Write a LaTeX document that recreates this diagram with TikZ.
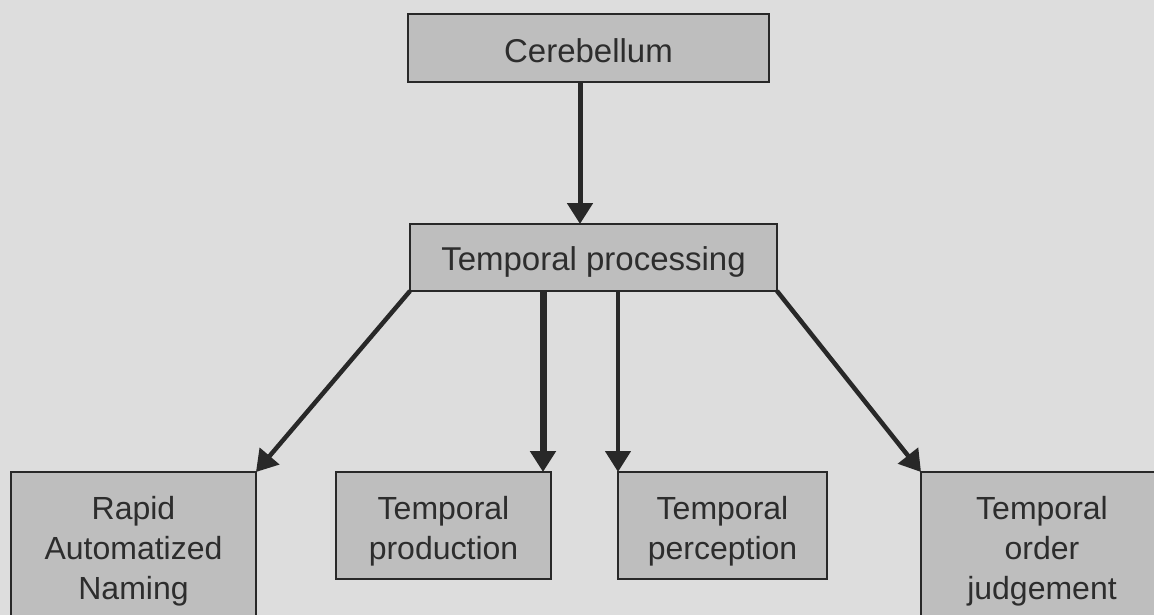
\documentclass[tikz,border=0pt]{standalone}
\usepackage{fontspec}
\setmainfont{Liberation Sans}
\usetikzlibrary{arrows.meta}
\definecolor{bg}{RGB}{221,221,221}
\definecolor{boxfill}{RGB}{190,190,190}
\definecolor{edge}{RGB}{40,40,40}
\definecolor{txt}{RGB}{45,45,45}
\begin{document}
\begin{tikzpicture}[x=1pt,y=-1pt,
  box/.style={draw=edge, line width=2pt, fill=boxfill, text=txt, inner sep=0pt, outer sep=0pt, align=center},
  topbox/.style={box, font=\fontsize{33}{40}\selectfont, text depth=0pt},
  lowbox/.style={box, font=\fontsize{32}{40}\selectfont},
  conn/.style={draw=edge, line width=#1, -{Triangle[width=25pt,length=21pt]}},
  conn/.default=4.5pt
]
\fill[bg] (0,0) rectangle (1154,615);
\useasboundingbox (0,0) rectangle (1154,615);
\clip (0,0) rectangle (1154,615);

\node[topbox, minimum width=361pt, minimum height=68pt, text height=28.6pt] (cer) at (588.5,48) {Cerebellum};
\node[topbox, minimum width=367pt, minimum height=67pt, text height=26.4pt] (tp) at (593.5,257.5) {Temporal processing};

\node[lowbox, minimum width=245pt, minimum height=156pt, text width=230pt, text height=30pt, text depth=92pt] (ran) at (133.5,550) {Rapid\\Automatized\\Naming};
\node[lowbox, minimum width=215pt, minimum height=107pt, text width=200pt, text height=30pt, text depth=43pt] (prod) at (443.5,525.5) {Temporal\\production};
\node[lowbox, minimum width=209pt, minimum height=107pt, text width=200pt, text height=30pt, text depth=43pt] (perc) at (722.5,525.5) {Temporal\\perception};
\node[lowbox, minimum width=242pt, minimum height=156pt, text width=230pt, text height=30pt, text depth=92pt] (toj) at (1042,550) {Temporal\\order\\judgement};

\draw[conn=5pt] ([xshift=-8.5pt]cer.south) -- ([xshift=-8.5pt]cer.south |- tp.north);
\draw[conn=7pt] ([xshift=-8pt]prod.north east |- tp.south) -- ([xshift=-8pt]prod.north east);
\draw[conn=4.5pt] (perc.north west |- tp.south) -- (perc.north west);
\draw[conn] (tp.south west) -- (ran.north east);
\draw[conn] (tp.south east) -- (toj.north west);
\end{tikzpicture}
\end{document}
